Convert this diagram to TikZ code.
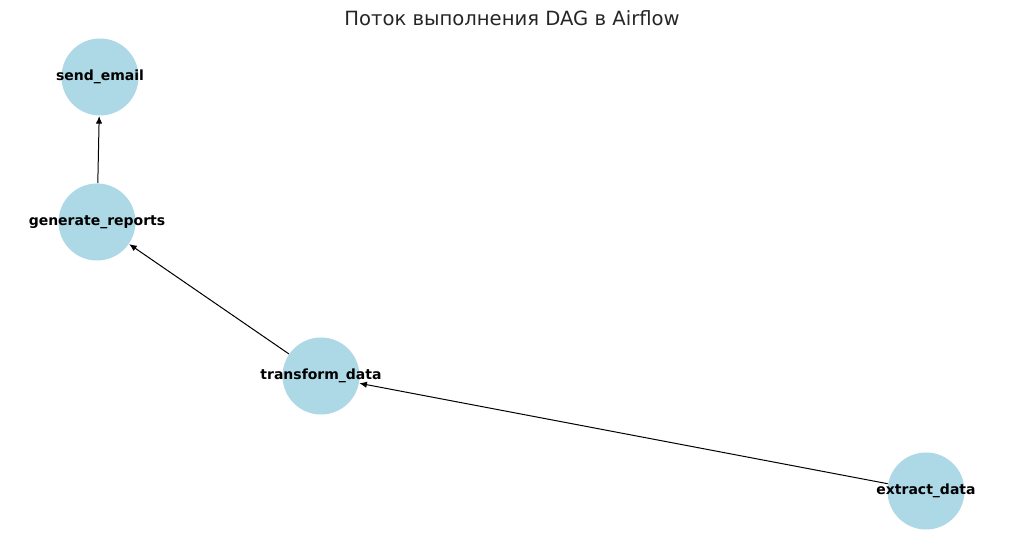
\documentclass[tikz,border=0pt]{standalone}
\usepackage{fontspec}
\setmainfont{DejaVu Sans}
\usetikzlibrary{arrows.meta}
\definecolor{taskblue}{HTML}{ADD8E6}
\begin{document}
\begin{tikzpicture}[x=0.5pt, y=-0.5pt, >={Latex[length=3.8pt,width=3.2pt]}, line width=0.5pt,
        task/.style={circle, fill=taskblue, minimum size=38.5pt, inner sep=0pt},
        tasklabel/.style={font=\bfseries\fontsize{7}{8}\selectfont, inner sep=0pt}]
        \useasboundingbox (0,0) rectangle (1024,545);
        \node[anchor=base, text=black!85, font=\fontsize{9.8}{11}\selectfont] (title) at (512,26) {Поток выполнения DAG в Airflow};
        \node[task, label={[tasklabel]center:send\_email}] (email) at (100,77) {};
        \node[task, label={[tasklabel]center:generate\_reports}] (reports) at (97,222) {};
        \node[task, label={[tasklabel]center:transform\_data}] (transform) at (321,376) {};
        \node[task, label={[tasklabel]center:extract\_data}] (extract) at (926,491) {};
        \draw [->] (extract) -- (transform);
        \draw [->] (transform) -- (reports);
        \draw [->] (reports) -- (email);
\end{tikzpicture}
\end{document}
